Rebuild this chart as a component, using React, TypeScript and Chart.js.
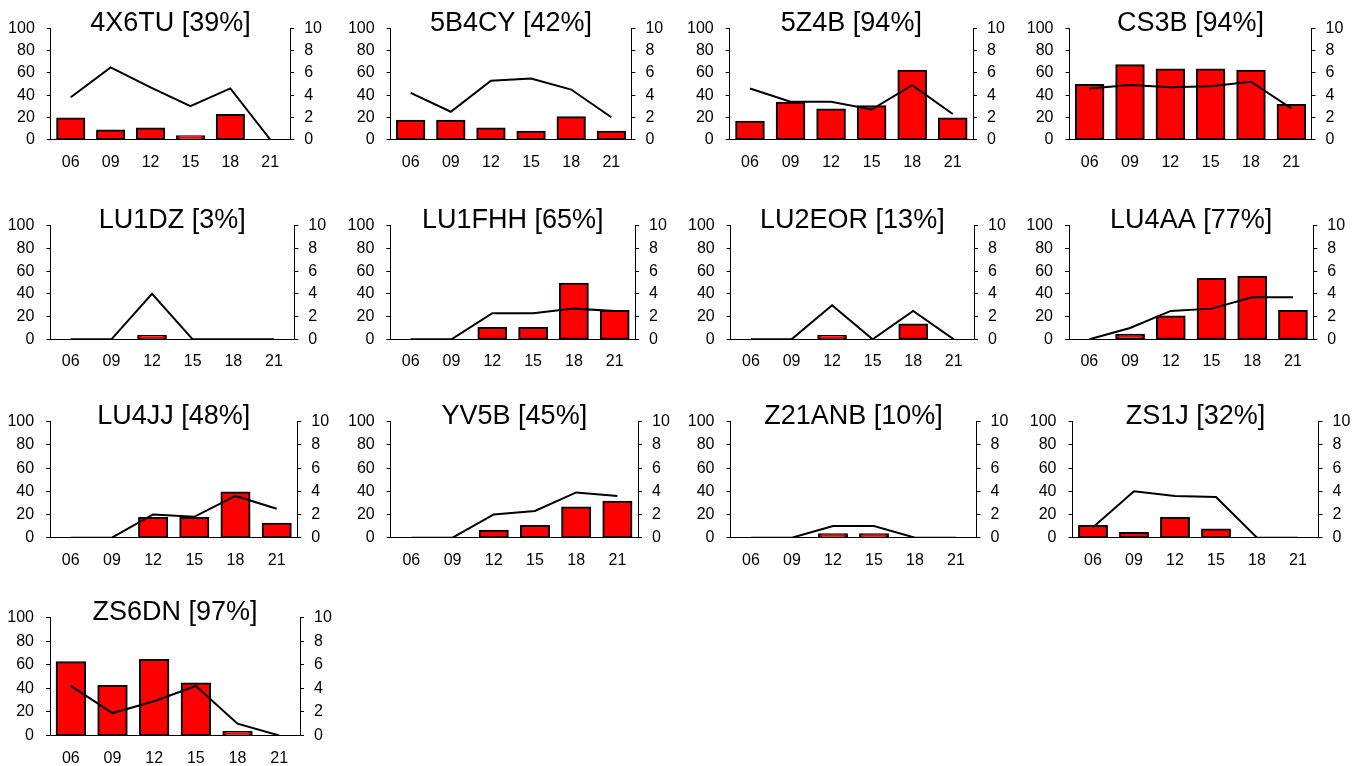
import { useEffect, useRef } from 'react';
import { Chart, registerables } from 'chart.js';

Chart.register(...registerables);

// ---------- data ----------
const hours = ['06', '09', '12', '15', '18', '21'];

const stations = [
  '4X6TU', '5B4CY', '5Z4B', 'CS3B',
  'LU1DZ', 'LU1FHH', 'LU2EOR', 'LU4AA',
  'LU4JJ', 'YV5B', 'Z21ANB', 'ZS1J',
  'ZS6DN',
];

const percents = [39, 42, 94, 94, 3, 65, 13, 77, 48, 45, 10, 32, 97];

// bar values (left axis, 0-100) per station, per hour
const barPct: (number | null)[][] = [
  [19, 8, 10, 3, 22, null],
  [17, 17, 10, 7, 20, 7],
  [16, 33, 27, 30, 62, 19],
  [49, 67, 63, 63, 62, 31],
  [null, null, 3, null, null, null],
  [null, null, 10, 10, 49, 25],
  [null, null, 3, null, 13, null],
  [null, 4, 20, 53, 55, 25],
  [null, null, 17, 17, 39, 12],
  [null, null, 6, 10, 26, 31],
  [null, null, 3, 3, null, null],
  [10, 4, 17, 7, null, null],
  [62, 42, 64, 44, 3, null],
];

// line values (right axis, 0-10) per station, per hour
const lineVals: number[][] = [
  [3.8, 6.5, 4.7, 3.0, 4.6, 0],
  [4.2, 2.5, 5.3, 5.5, 4.5, 2.0],
  [4.6, 3.4, 3.4, 2.7, 4.9, 2.3],
  [4.6, 4.9, 4.7, 4.8, 5.2, 2.8],
  [0, 0, 4.0, 0, 0, 0],
  [0, 0, 2.3, 2.3, 2.7, 2.5],
  [0, 0, 3.0, 0, 2.5, 0],
  [0, 1.0, 2.5, 2.7, 3.7, 3.7],
  [0, 0, 2.0, 1.8, 3.6, 2.5],
  [0, 0, 2.0, 2.3, 3.9, 3.6],
  [0, 0, 1.0, 1.0, 0, 0],
  [0.9, 4.0, 3.6, 3.5, 0, 0],
  [4.2, 1.9, 2.9, 4.2, 1.0, 0],
];

const leftTicksMax = 100;
const rightTicksMax = 10;

// ---------- layout (plot-area positions of each panel) ----------
const rowBoxes = [
  { T: 28.5, B: 139.5 },
  { T: 225.7, B: 339.3 },
  { T: 421.7, B: 537.7 },
  { T: 617.5, B: 735.5 },
];
const colBoxes: number[][][] = [
  [[50.8, 290.2], [390.6, 631.4], [729.7, 973], [1069.5, 1311.5]],
  [[50.4, 294.3], [390.3, 635.1], [730.7, 974], [1069, 1313.3]],
  [[50.1, 297.3], [390.7, 638], [730.5, 976.5], [1072.5, 1318.5]],
  [[50, 300]],
];

const FONT = "'Liberation Sans', Arial, Helvetica, sans-serif";

function Panel({ index }: { index: number }) {
  const ref = useRef<HTMLCanvasElement | null>(null);
  const r = Math.floor(index / 4);
  const c = index % 4;
  const [L, R] = colBoxes[r][c];
  const { T, B } = rowBoxes[r];
  const x0 = Math.round(L) - 50;
  const y0 = Math.round(T) - 36;
  const w = Math.round(R) - x0 + 46;
  const h = Math.round(B) - y0 + 32;
  const leftW = L - x0;
  const rightW = x0 + w - R;
  const topH = T - y0;
  const botH = y0 + h - B;

  useEffect(() => {
    if (!ref.current) return;
    const titleSize = 27;
    const titleLH = titleSize * 1.2;
    const padTop = topH - 5 - titleLH / 2;
    const padBottom = topH - titleLH - padTop;
    const tickFont = { family: FONT, size: 16 };
    const chart = new Chart(ref.current, {
      data: {
        labels: hours,
        datasets: [
          {
            type: 'line',
            data: lineVals[index],
            yAxisID: 'y1',
            borderColor: '#000000',
            borderWidth: 2,
            pointRadius: 0,
            tension: 0,
            order: 0,
          },
          {
            type: 'bar',
            data: barPct[index],
            yAxisID: 'y',
            backgroundColor: '#ff0000',
            borderColor: '#000000',
            borderWidth: 2,
            borderSkipped: false,
            inflateAmount: 1,
            barPercentage: 0.68,
            categoryPercentage: 1,
            order: 1,
          },
        ],
      } as any,
      options: {
        responsive: false,
        animation: false,
        devicePixelRatio: 1,
        layout: { padding: 0 },
        plugins: {
          legend: { display: false },
          tooltip: { enabled: false },
          title: {
            display: true,
            text: `${stations[index]} [${percents[index]}%]`,
            fullSize: false,
            color: '#000000',
            font: { family: FONT, size: titleSize, weight: 'normal', lineHeight: 1.2 },
            padding: { top: padTop, bottom: padBottom },
          },
        },
        scales: {
          x: {
            type: 'category',
            offset: true,
            grid: { display: false, drawTicks: false },
            border: { display: true, color: '#000000', width: 1 },
            ticks: { font: tickFont, color: '#000000', padding: 13, maxRotation: 0, autoSkip: false },
            afterFit: (s: any) => { s.height = botH; },
          },
          y: {
            type: 'linear',
            position: 'left',
            min: 0,
            max: leftTicksMax,
            ticks: { stepSize: 20, font: tickFont, color: '#000000', padding: 12 },
            grid: { drawOnChartArea: false, drawTicks: true, tickLength: 4, color: '#000000' },
            border: { display: true, color: '#000000', width: 1 },
            afterFit: (s: any) => { s.width = leftW; },
          },
          y1: {
            type: 'linear',
            position: 'right',
            min: 0,
            max: rightTicksMax,
            ticks: { stepSize: 2, font: tickFont, color: '#000000', padding: 10 },
            grid: { drawOnChartArea: false, drawTicks: true, tickLength: 4, color: '#000000' },
            border: { display: true, color: '#000000', width: 1 },
            afterFit: (s: any) => { s.width = rightW; },
          },
        },
      } as any,
    });
    return () => chart.destroy();
  }, []);

  return (
    <canvas
      ref={ref}
      width={w}
      height={h}
      style={{ position: 'absolute', left: x0, top: y0, width: w, height: h }}
    />
  );
}

export default function App() {
  return (
    <div
      style={{
        position: 'absolute',
        left: 0,
        top: 0,
        width: 1353,
        height: 766,
        background: '#ffffff',
        overflow: 'hidden',
      }}
    >
      {stations.map((s, i) => (
        <Panel key={s} index={i} />
      ))}
    </div>
  );
}
